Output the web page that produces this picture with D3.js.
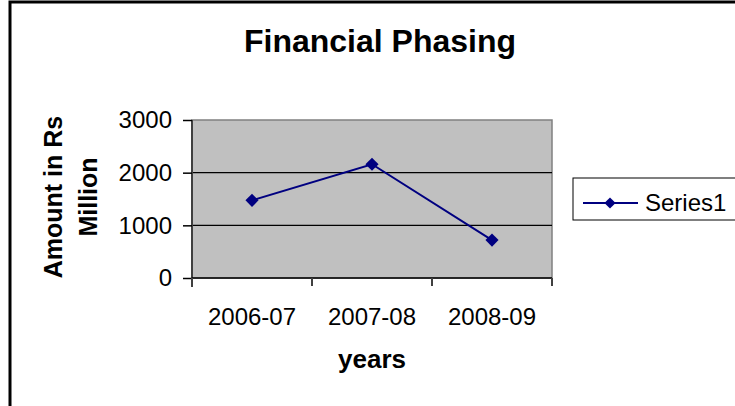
<!DOCTYPE html>
<html>
<head>
<meta charset="utf-8">
<script src="https://cdn.jsdelivr.net/npm/d3@7"></script>
<style>
body { margin: 0; background: #fff; }
text { font-family: "Liberation Sans", Arial, sans-serif; fill: #000; }
</style>
</head>
<body>
<script>
var years = ["2006-07", "2007-08", "2008-09"];
var amounts = [1475, 2160, 720];
var yTicks = [0, 1000, 2000, 3000];
var seriesName = "Series1";

var W = 735, H = 406,
plot = {left: 192, right: 552, top: 120, bottom: 278};

var xSc = d3.scaleBand().domain(years).range([plot.left, plot.right]),
ySc = d3.scaleLinear().domain([0, 3000]).range([plot.bottom, plot.top]);

var svg = d3.select("body").append("svg")
	.attr("width", W).attr("height", H);

// outer chart border
svg.append("rect")
	.attr("x", 10).attr("y", 2)
	.attr("width", W + 20).attr("height", H + 20)
	.attr("fill", "#fff").attr("stroke", "#000").attr("stroke-width", 3);

svg.append("text")
	.attr("x", 380).attr("y", 52)
	.attr("text-anchor", "middle")
	.attr("font-size", "32px").attr("font-weight", "bold")
	.text("Financial Phasing");

// plot area
svg.append("rect")
	.attr("x", plot.left).attr("y", plot.top)
	.attr("width", plot.right - plot.left).attr("height", plot.bottom - plot.top)
	.attr("fill", "#c0c0c0").attr("stroke", "#808080").attr("stroke-width", 1.5);

svg.append("g").selectAll("line")
	.data(yTicks.filter(function(d) { return d > 0 && d < 3000; }))
	.enter().append("line")
	.attr("x1", plot.left).attr("x2", plot.right)
	.attr("y1", function(d) { return ySc(d); })
	.attr("y2", function(d) { return ySc(d); })
	.attr("stroke", "#000").attr("stroke-width", 1.2);

var yAxis = svg.append("g")
	.attr("transform", "translate(" + plot.left + ",0)")
	.call(d3.axisLeft(ySc).tickValues(yTicks).tickFormat(d3.format("d"))
		.tickSize(9).tickPadding(11).tickSizeOuter(0));
yAxis.select(".domain").attr("stroke", "#404040").attr("stroke-width", 2)
	.attr("d", "M0," + (plot.top) + "V" + (plot.bottom + 9));
yAxis.selectAll(".tick line").attr("stroke", "#000").attr("stroke-width", 1.5);
yAxis.selectAll(".tick text").attr("font-size", "24px").attr("font-family", null);

var xBounds = years.map(function(d) { return xSc(d); }).concat([plot.right]);
var xAxis = svg.append("g");
xAxis.append("line")
	.attr("x1", plot.left).attr("x2", plot.right)
	.attr("y1", plot.bottom).attr("y2", plot.bottom)
	.attr("stroke", "#000").attr("stroke-width", 1.5);
xAxis.selectAll(".xt").data(xBounds).enter().append("line")
	.attr("x1", function(d) { return d; }).attr("x2", function(d) { return d; })
	.attr("y1", plot.bottom).attr("y2", plot.bottom + 8)
	.attr("stroke", "#404040").attr("stroke-width", 2);
xAxis.selectAll("text").data(years).enter().append("text")
	.attr("x", function(d) { return xSc(d) + xSc.bandwidth() / 2; })
	.attr("y", 325)
	.attr("text-anchor", "middle")
	.attr("font-size", "24px")
	.text(function(d) { return d; });

svg.append("text")
	.attr("x", 372).attr("y", 368)
	.attr("text-anchor", "middle")
	.attr("font-size", "26px").attr("font-weight", "bold")
	.text("years");

var yTitle = svg.append("text")
	.attr("transform", "translate(62,197) rotate(-90)")
	.attr("text-anchor", "middle")
	.attr("font-size", "25px").attr("font-weight", "bold");
yTitle.append("tspan").attr("x", 0).attr("y", 0).text("Amount in Rs");
yTitle.append("tspan").attr("x", 0).attr("y", 35).text("Million");

// series
var pts = years.map(function(d, i) {
	return [xSc(d) + xSc.bandwidth() / 2, ySc(amounts[i])];
});
svg.append("path")
	.attr("d", d3.line()(pts))
	.attr("fill", "none").attr("stroke", "#000080").attr("stroke-width", 2);

var diamond = d3.symbol().type(d3.symbolDiamond2).size(110);
svg.append("g").selectAll("path")
	.data(pts).enter().append("path")
	.attr("transform", function(d) { return "translate(" + d[0] + "," + d[1] + ")"; })
	.attr("d", diamond)
	.attr("fill", "#000080");

// legend
var legend = svg.append("g");
legend.append("rect")
	.attr("x", 573).attr("y", 178).attr("width", 180).attr("height", 42)
	.attr("fill", "#fff").attr("stroke", "#000").attr("stroke-width", 1);
legend.append("line")
	.attr("x1", 583).attr("x2", 638).attr("y1", 203).attr("y2", 203)
	.attr("stroke", "#000080").attr("stroke-width", 2);
legend.append("path")
	.attr("transform", "translate(610,203)")
	.attr("d", d3.symbol().type(d3.symbolDiamond2).size(80)).attr("fill", "#000080");
legend.append("text")
	.attr("x", 645).attr("y", 211)
	.attr("font-size", "24px")
	.text(seriesName);
</script>
</body>
</html>
